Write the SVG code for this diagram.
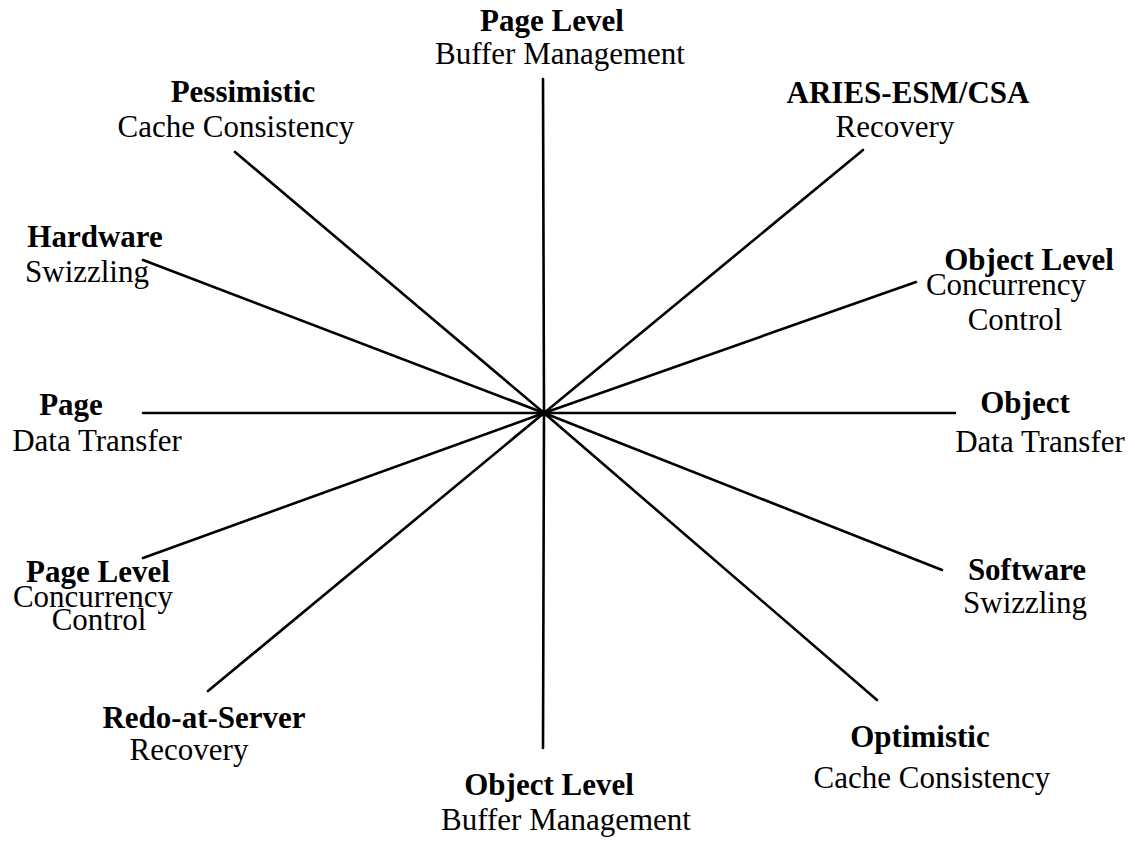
<svg xmlns="http://www.w3.org/2000/svg" width="1135" height="843" viewBox="0 0 1135 843">
  <style>
    text { font-family: "Liberation Serif", "Times New Roman", serif; font-size: 31px; fill: #000; text-anchor: middle; }
    .b { font-weight: bold; }
    .spoke { stroke: #000; stroke-width: 2.6; stroke-linecap: round; fill: none; }
  </style>
  <rect width="1135" height="843" fill="#fff"/>

  <!-- spokes radiating from the hub -->
  <g id="connectors">
    <line class="spoke" x1="544" y1="413" x2="543" y2="79"/>
    <line class="spoke" x1="544" y1="413" x2="543" y2="748"/>
    <line class="spoke" x1="544" y1="413" x2="143" y2="413"/>
    <line class="spoke" x1="544" y1="413" x2="955" y2="413"/>
    <line class="spoke" x1="544" y1="413" x2="235" y2="152"/>
    <line class="spoke" x1="544" y1="413" x2="143" y2="260"/>
    <line class="spoke" x1="544" y1="413" x2="863" y2="150"/>
    <line class="spoke" x1="544" y1="413" x2="916" y2="282"/>
    <line class="spoke" x1="544" y1="413" x2="942" y2="570"/>
    <line class="spoke" x1="544" y1="413" x2="877" y2="700"/>
    <line class="spoke" x1="544" y1="413" x2="208" y2="691"/>
    <line class="spoke" x1="544" y1="413" x2="143" y2="558"/>
    <circle cx="544" cy="413" r="3.5" fill="#000"/>
  </g>

  <g id="page-buffer">
    <text class="b" x="552" y="31">Page Level</text>
    <text x="560" y="64">Buffer Management</text>
  </g>
  <g id="pessimistic-cache">
    <text class="b" x="243" y="102">Pessimistic</text>
    <text x="236" y="137">Cache Consistency</text>
  </g>
  <g id="aries-recovery">
    <text class="b" x="908" y="103">ARIES-ESM/CSA</text>
    <text x="895" y="137">Recovery</text>
  </g>
  <g id="hardware-swizzling">
    <text class="b" x="95" y="247">Hardware</text>
    <text x="87" y="282">Swizzling</text>
  </g>
  <g id="object-concurrency">
    <text class="b" x="1029" y="270">Object Level</text>
    <text x="1006" y="295">Concurrency</text>
    <text x="1015" y="330">Control</text>
  </g>
  <g id="page-transfer">
    <text class="b" x="71" y="415">Page</text>
    <text x="97" y="451">Data Transfer</text>
  </g>
  <g id="object-transfer">
    <text class="b" x="1025" y="413">Object</text>
    <text x="1040" y="452">Data Transfer</text>
  </g>
  <g id="page-concurrency">
    <text class="b" x="98" y="582">Page Level</text>
    <text x="93" y="607">Concurrency</text>
    <text x="99" y="630">Control</text>
  </g>
  <g id="software-swizzling">
    <text class="b" x="1027" y="580">Software</text>
    <text x="1025" y="613">Swizzling</text>
  </g>
  <g id="redo-recovery">
    <text class="b" x="204" y="728">Redo-at-Server</text>
    <text x="189" y="760">Recovery</text>
  </g>
  <g id="object-buffer">
    <text class="b" x="549" y="795">Object Level</text>
    <text x="566" y="830">Buffer Management</text>
  </g>
  <g id="optimistic-cache">
    <text class="b" x="920" y="747">Optimistic</text>
    <text x="932" y="788">Cache Consistency</text>
  </g>
</svg>
